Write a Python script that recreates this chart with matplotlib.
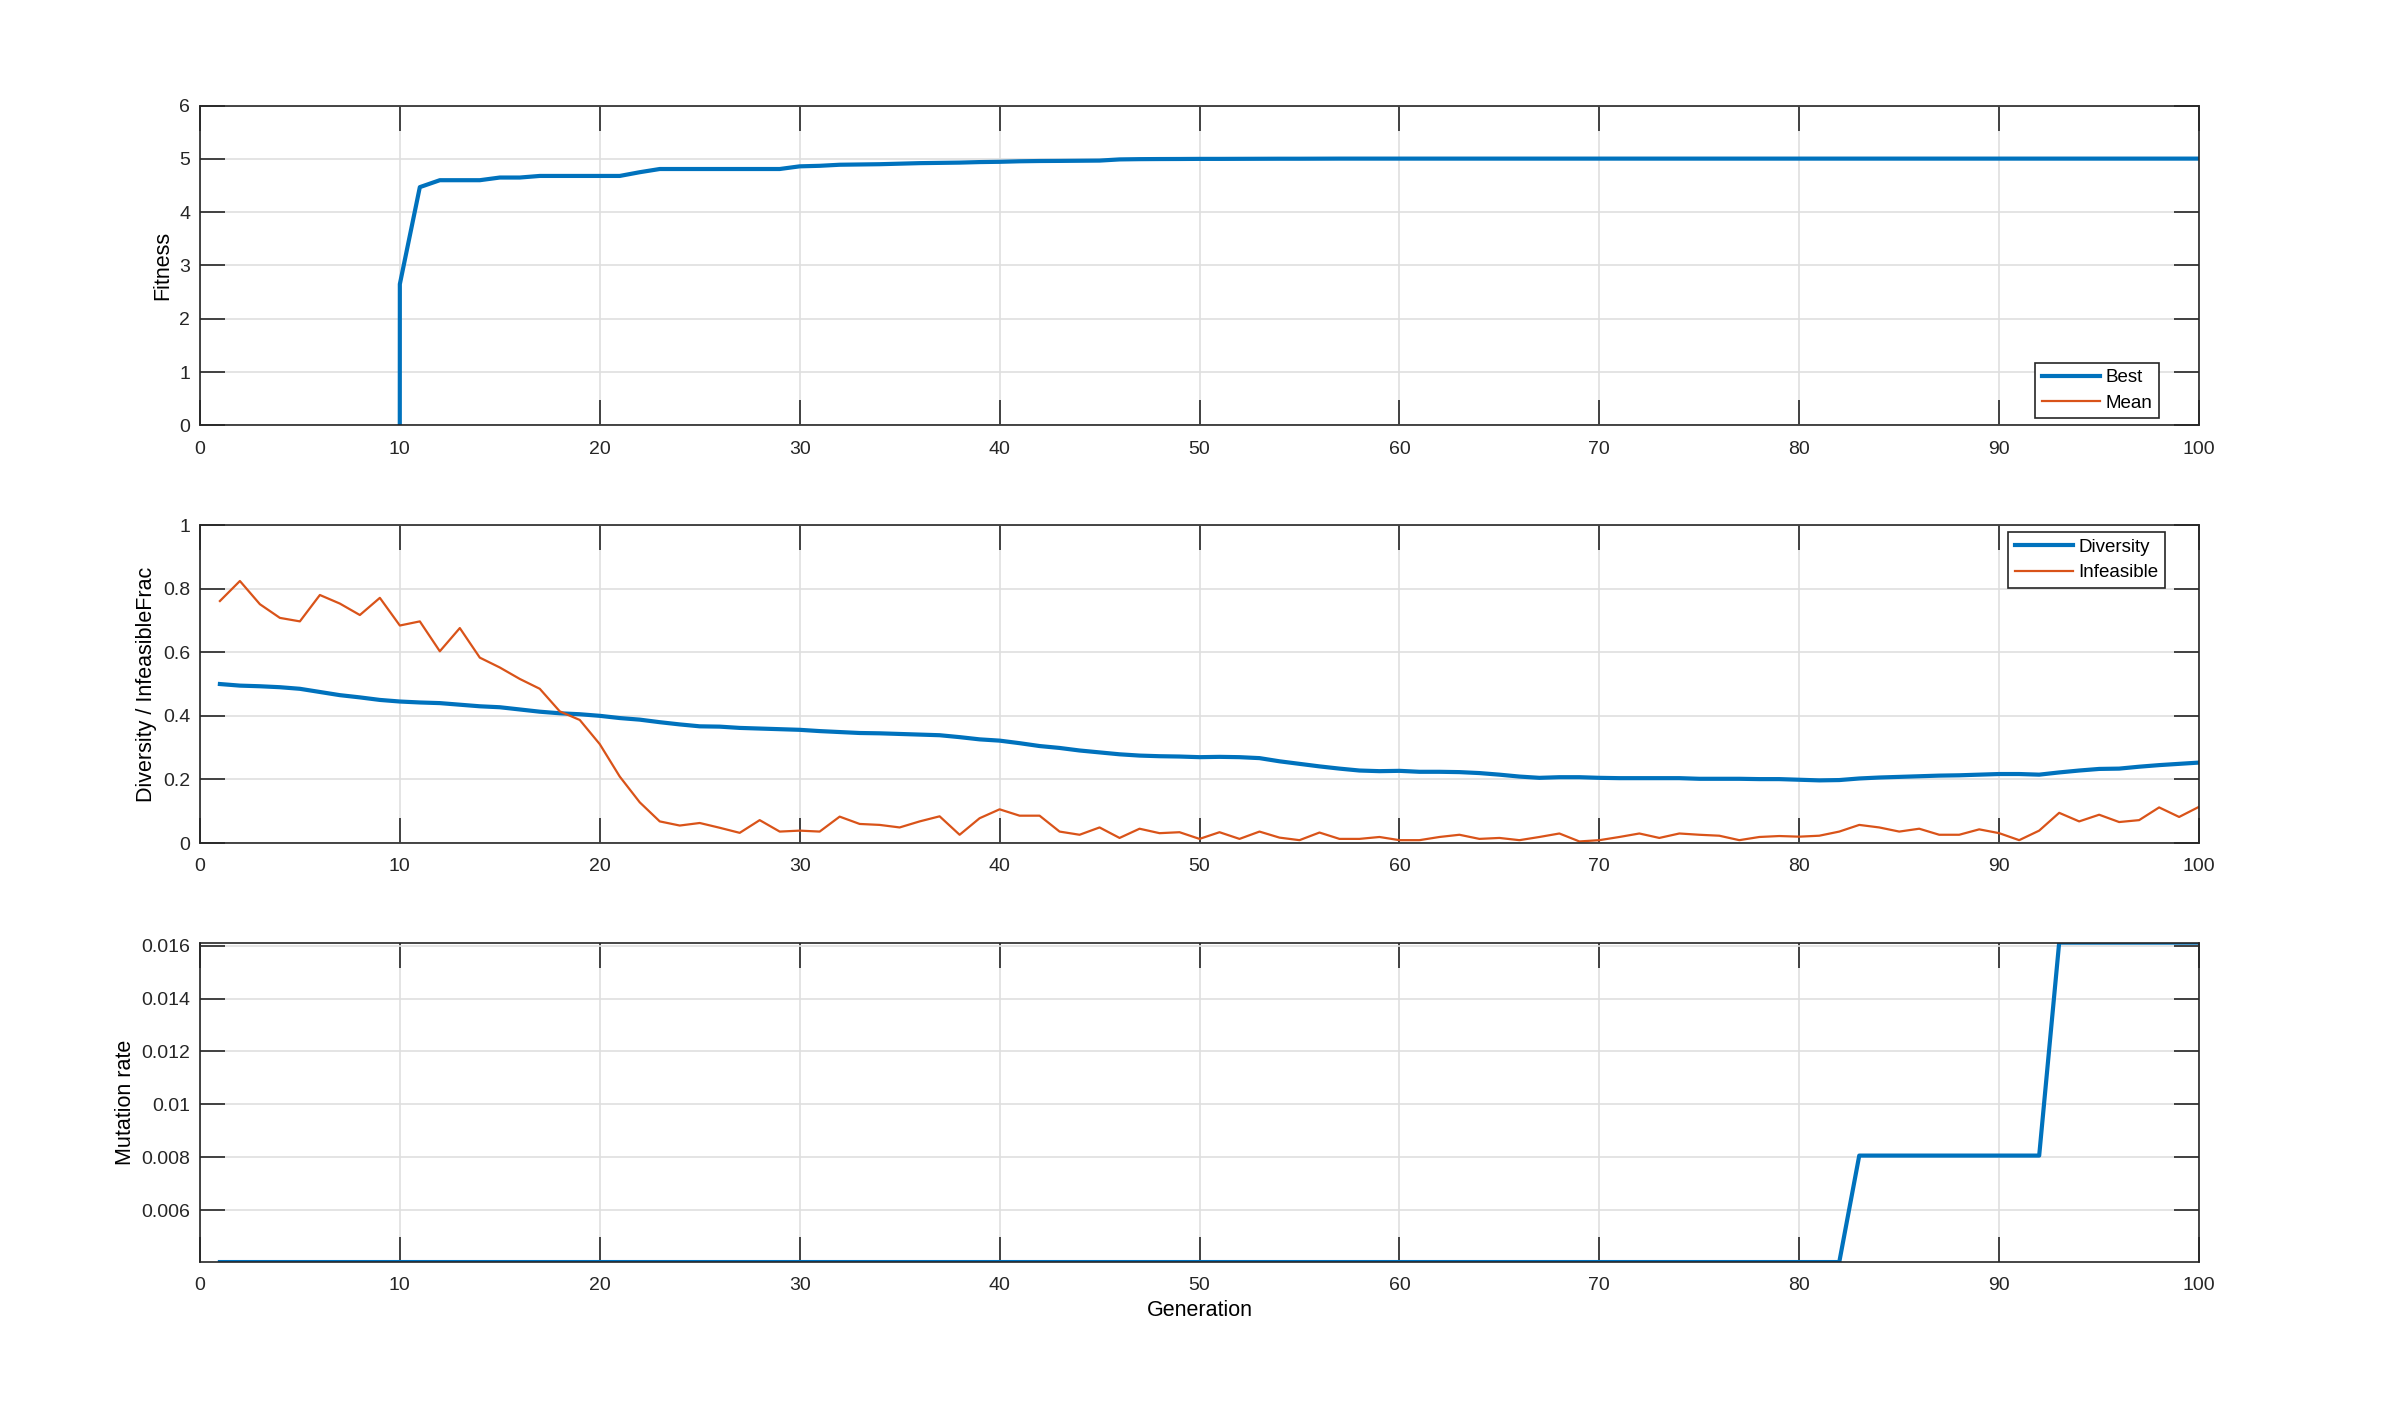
import matplotlib.pyplot as plt
from matplotlib.ticker import FormatStrFormatter

plt.rcParams['font.family'] = ['Liberation Sans', 'DejaVu Sans']

generation = list(range(1, 101))

# best fitness (gens 1-9 infeasible -> big penalty, below the axis)
best_fitness = [-1000]*9 + [
    2.65, 4.47, 4.60, 4.60, 4.60, 4.65, 4.65, 4.68, 4.68, 4.68,
    4.68, 4.68, 4.75, 4.81, 4.81, 4.81, 4.81, 4.81, 4.81, 4.81,
    4.86, 4.87, 4.89, 4.895, 4.90, 4.91, 4.92, 4.925, 4.93, 4.94,
    4.945, 4.955, 4.96, 4.962, 4.965, 4.968, 4.99, 4.995, 4.997, 4.998,
    5.0, 5.0, 5.001, 5.002, 5.003, 5.003, 5.004, 5.005, 5.005, 5.005,
    5.005, 5.005, 5.005, 5.005, 5.005, 5.005, 5.005, 5.005, 5.005, 5.005,
    5.005, 5.005, 5.005, 5.005, 5.005, 5.005, 5.005, 5.005, 5.005, 5.005,
    5.005, 5.005, 5.005, 5.005, 5.005, 5.005, 5.005, 5.005, 5.005, 5.005,
    5.005, 5.005, 5.005, 5.005, 5.005, 5.005, 5.005, 5.005, 5.005, 5.005,
    5.005]

# mean fitness is dominated by penalties, never visible in [0, 6]
mean_fitness = [-9500, -9200, -9000, -8800, -8700, -8500, -8400, -8300, -8100, -7900,
                -7700, -7600, -7400, -7200, -7000, -6900, -6700, -6500, -6300, -6100,
                -5900, -5600, -5300, -5000, -4800, -4700, -4600, -4500, -4400, -4300,
                -4200, -4100, -4000, -3900, -3800, -3700, -3600, -3500, -3400, -3300,
                -3200, -3100, -3000, -2900, -2800, -2700, -2600, -2500, -2400, -2300,
                -2200, -2100, -2000, -1900, -1800, -1700, -1600, -1500, -1400, -1300,
                -1200, -1100, -1000, -950, -900, -850, -800, -750, -700, -650,
                -600, -550, -500, -480, -460, -440, -420, -400, -380, -360,
                -340, -320, -300, -280, -260, -240, -220, -200, -180, -160,
                -150, -140, -130, -120, -110, -100, -90, -80, -70, -60]

diversity = [0.500, 0.495, 0.493, 0.490, 0.485, 0.475, 0.465, 0.458, 0.450, 0.445,
             0.442, 0.440, 0.435, 0.430, 0.427, 0.420, 0.413, 0.408, 0.405, 0.400,
             0.393, 0.388, 0.380, 0.373, 0.367, 0.366, 0.362, 0.360, 0.358, 0.356,
             0.352, 0.349, 0.346, 0.345, 0.343, 0.341, 0.339, 0.333, 0.326, 0.322,
             0.314, 0.305, 0.299, 0.291, 0.285, 0.279, 0.275, 0.273, 0.272, 0.270,
             0.271, 0.270, 0.267, 0.257, 0.249, 0.241, 0.234, 0.228, 0.226, 0.227,
             0.224, 0.224, 0.223, 0.220, 0.215, 0.209, 0.205, 0.207, 0.207, 0.205,
             0.204, 0.204, 0.204, 0.204, 0.202, 0.202, 0.202, 0.201, 0.201, 0.199,
             0.197, 0.198, 0.203, 0.206, 0.208, 0.210, 0.212, 0.213, 0.215, 0.217,
             0.217, 0.215, 0.222, 0.228, 0.233, 0.234, 0.240, 0.245, 0.249, 0.253]

infeasible = [0.761, 0.824, 0.751, 0.708, 0.697, 0.780, 0.753, 0.717, 0.771, 0.684,
              0.697, 0.603, 0.676, 0.583, 0.552, 0.516, 0.485, 0.414, 0.387, 0.311,
              0.209, 0.128, 0.068, 0.055, 0.063, 0.048, 0.032, 0.072, 0.036, 0.039,
              0.036, 0.083, 0.060, 0.057, 0.049, 0.068, 0.084, 0.026, 0.078, 0.106,
              0.086, 0.086, 0.036, 0.026, 0.049, 0.016, 0.045, 0.031, 0.034, 0.013,
              0.034, 0.013, 0.036, 0.017, 0.009, 0.033, 0.013, 0.013, 0.019, 0.009,
              0.009, 0.019, 0.026, 0.013, 0.016, 0.009, 0.019, 0.030, 0.005, 0.009,
              0.019, 0.030, 0.016, 0.030, 0.026, 0.023, 0.009, 0.019, 0.022, 0.020,
              0.023, 0.036, 0.057, 0.049, 0.036, 0.045, 0.026, 0.026, 0.043, 0.031,
              0.009, 0.039, 0.095, 0.068, 0.089, 0.066, 0.072, 0.112, 0.082, 0.114]

mutation_rate = [0.00403]*82 + [0.00806]*10 + [0.01612]*8

blue = '#0072BD'
orange = '#D95319'

fig = plt.figure(figsize=(24, 14.19), dpi=100)
fig.set_facecolor('white')

ax1 = fig.add_axes([0.0833, 0.7002, 0.833, 0.2254])
ax2 = fig.add_axes([0.0833, 0.4059, 0.833, 0.2241])
ax3 = fig.add_axes([0.0833, 0.1106, 0.833, 0.2251])

def style(ax):
    ax.set_xlim(0, 100)
    ax.set_xticks(range(0, 101, 10))
    ax.grid(True, color='#dfdfdf', linewidth=1.2)
    ax.set_axisbelow(True)
    ax.tick_params(direction='in', length=18, width=1.2, top=True, right=True,
                   labelsize=14, colors='#262626')
    ax.tick_params(axis='x', pad=11)
    ax.tick_params(axis='y', pad=7)
    for s in ax.spines.values():
        s.set_linewidth(1.2)
        s.set_color('#262626')

def add_legend(ax, loc, anchor):
    leg = ax.legend(loc=loc, bbox_to_anchor=anchor, borderaxespad=0,
                    fontsize=13.5, frameon=True, fancybox=False, framealpha=1,
                    edgecolor='#262626', handlelength=3.1, handletextpad=0.3,
                    borderpad=0.35, labelspacing=0.45)
    leg.get_frame().set_linewidth(1.2)

ax1.plot(generation, best_fitness, color=blue, lw=3, label='Best')
ax1.plot(generation, mean_fitness, color=orange, lw=1.6, label='Mean')
ax1.set_ylim(0, 6)
ax1.set_ylabel('Fitness', fontsize=15.5)
style(ax1)
add_legend(ax1, 'lower right', (1 - 40/2000, 7/320))

ax2.plot(generation, diversity, color=blue, lw=3, label='Diversity')
ax2.plot(generation, infeasible, color=orange, lw=1.6, label='Infeasible')
ax2.set_ylim(0, 1)
ax2.yaxis.set_major_formatter(FormatStrFormatter('%g'))
ax2.set_ylabel('Diversity / InfeasibleFrac', fontsize=15.5)
style(ax2)
add_legend(ax2, 'upper right', (1 - 34/2000, 1 - 7/318))

ax3.plot(generation, mutation_rate, color=blue, lw=3)
ax3.set_ylim(min(mutation_rate), max(mutation_rate))
ax3.set_yticks([0.006, 0.008, 0.01, 0.012, 0.014, 0.016])
ax3.yaxis.set_major_formatter(FormatStrFormatter('%g'))
ax3.set_ylabel('Mutation rate', fontsize=15.5)
ax3.set_xlabel('Generation', fontsize=15.5)
style(ax3)

plt.savefig('out.png', dpi=100, facecolor='white')
